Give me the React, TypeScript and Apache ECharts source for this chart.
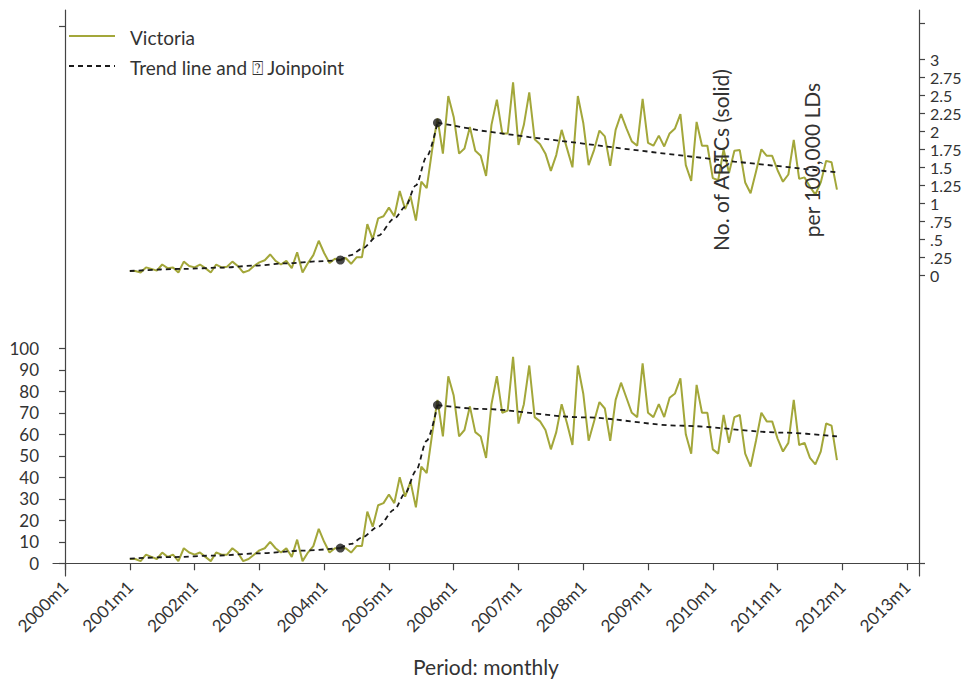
import React, { useEffect, useRef } from "react";
import * as echarts from "echarts";

// Month index: 0 = 2000m1. Data start at 2001m1 (index 12).
const START_MONTH = 12;
const tickMonths = [0, 12, 24, 36, 48, 60, 72, 84, 96, 108, 120, 132, 144, 156];

// Number of ARTCs (left axis), 2001m1..2011m12
const countValues = [
  2, 2, 1, 4, 3, 2, 5, 3, 4, 1, 7, 5,
  4, 5, 3, 1, 5, 4, 4, 7, 5, 1, 2, 4,
  6, 7, 10, 7, 5, 7, 3, 11, 1, 5, 8, 16,
  10, 5, 7, 7, 7, 5, 8, 8, 24, 17, 27, 28,
  32, 28, 40, 31, 38, 26, 45, 42, 60, 76, 59, 87,
  78, 59, 62, 73, 61, 59, 49, 74, 87, 70, 71, 96,
  65, 74, 92, 68, 66, 62, 53, 61, 74, 65, 55, 92,
  79, 57, 66, 75, 72, 57, 76, 84, 77, 70, 68, 93,
  70, 68, 74, 68, 77, 79, 86, 60, 51, 83, 70, 70,
  53, 51, 69, 56, 68, 69, 51, 45, 57, 70, 66, 66,
  58, 52, 56, 76, 55, 56, 49, 46, 52, 65, 64, 48,
];

// Rate per 100,000 LDs (right axis), 2001m1..2011m12
const rateValues = [
  0.06, 0.06, 0.04, 0.11, 0.09, 0.065, 0.15, 0.1, 0.11, 0.04, 0.19, 0.13,
  0.11, 0.15, 0.1, 0.04, 0.15, 0.11, 0.12, 0.19, 0.13, 0.04, 0.065, 0.13,
  0.18, 0.21, 0.29, 0.2, 0.15, 0.2, 0.1, 0.32, 0.04, 0.17, 0.28, 0.48,
  0.31, 0.17, 0.23, 0.21, 0.24, 0.16, 0.25, 0.25, 0.71, 0.5, 0.79, 0.82,
  0.94, 0.82, 1.17, 0.92, 1.1, 0.76, 1.3, 1.21, 1.74, 2.18, 1.69, 2.49,
  2.2, 1.69, 1.76, 2.06, 1.73, 1.66, 1.38, 2.09, 2.44, 1.97, 1.97, 2.68,
  1.81, 2.09, 2.54, 1.89, 1.82, 1.69, 1.45, 1.67, 2.02, 1.76, 1.5, 2.49,
  2.12, 1.53, 1.74, 2.01, 1.93, 1.52, 2.02, 2.24, 2.04, 1.86, 1.8, 2.45,
  1.84, 1.8, 1.94, 1.79, 1.97, 2.04, 2.24, 1.53, 1.31, 2.13, 1.8, 1.8,
  1.35, 1.32, 1.75, 1.42, 1.73, 1.74, 1.29, 1.14, 1.44, 1.75, 1.66, 1.66,
  1.46, 1.3, 1.4, 1.88, 1.34, 1.36, 1.23, 1.12, 1.29, 1.59, 1.57, 1.19,
];

// Joinpoint trend segments [monthIndex, value]
const countTrend1 = [[12, 2.2], [20, 2.9], [28, 3.6], [36, 4.65], [44, 5.9], [51, 7.1]];
const countTrend2 = [[51, 7.1], [53, 9], [55, 12], [58, 17], [61, 25], [63, 32.5], [65, 43], [67, 57], [69, 73.6]];
const countTrend3 = [[69, 73.6], [77, 71.8], [96, 67.9], [114, 64], [133, 60.8], [143, 59]];
const rateTrend1 = [[12, 0.06], [22, 0.09], [29, 0.107], [35, 0.134], [41, 0.167], [47, 0.194], [51, 0.213]];
const rateTrend2 = [[51, 0.213], [53, 0.28], [55, 0.37], [58, 0.55], [61, 0.79], [63, 0.95], [65, 1.25], [67, 1.65], [69, 2.12]];
const rateTrend3 = [[69, 2.12], [77, 2.01], [86, 1.92], [96, 1.83], [105, 1.745], [115, 1.657], [124, 1.58], [133, 1.51], [143, 1.43]];
const countJoinpoints = [[51, 7.1], [69, 73.6]];
const rateJoinpoints = [[51, 0.213], [69, 2.12]];

const leftLabels = [0, 10, 20, 30, 40, 50, 60, 70, 80, 90, 100];
const leftTicks = [...leftLabels, 250];
const rightLabels = [0, 0.25, 0.5, 0.75, 1, 1.25, 1.5, 1.75, 2, 2.25, 2.5, 2.75, 3];
const rightTicks = [-4, ...rightLabels, 3.5];

const GREEN = "#a3a73a";
const FONT = "Lato";
const TEXT = "#333";
const AXIS = "#444";

export default function App() {
  const ref = useRef<HTMLDivElement>(null);
  useEffect(() => {
    if (!ref.current) return;
    const chart = echarts.init(ref.current, null, { renderer: "svg" });
    const toPts = (vals: number[]) => vals.map((v, i) => [START_MONTH + i, v]);
    const trend = (data: number[][], yAxisIndex: number, smooth: number) => ({
      type: "line",
      data,
      yAxisIndex,
      smooth,
      smoothMonotone: "x",
      symbol: "none",
      lineStyle: { color: "#1a1a1a", width: 1.8, type: [5, 4] },
      z: 3,
    });
    chart.setOption({
      animation: false,
      textStyle: { fontFamily: FONT },
      grid: { left: 53, right: 49, top: 10, bottom: 104, outerBoundsMode: "none", containLabel: false },
      xAxis: {
        type: "value",
        min: -2.23,
        max: 158.2,
        axisLine: { show: true, lineStyle: { color: AXIS, width: 1.2 } },
        axisTick: { show: true, customValues: tickMonths, length: 7, lineStyle: { color: AXIS, width: 1.2 } },
        axisLabel: {
          customValues: tickMonths,
          rotate: 45,
          margin: 8,
          fontSize: 17,
          color: TEXT,
          fontFamily: FONT,
          formatter: (v: number) => `${2000 + Math.round(v / 12)}m1`,
        },
        splitLine: { show: false },
        name: "Period: monthly",
        nameLocation: "middle",
        nameGap: 80,
        nameTextStyle: { fontSize: 21, color: TEXT, fontFamily: FONT },
      },
      yAxis: [
        {
          type: "value",
          position: "left",
          min: -5.91,
          max: 257.35,
          axisLine: { show: true, lineStyle: { color: AXIS, width: 1.2 } },
          axisTick: { show: true, customValues: leftTicks, length: 6, lineStyle: { color: AXIS, width: 1.2 } },
          axisLabel: { customValues: leftLabels, fontSize: 17, margin: 14, color: TEXT, fontFamily: FONT },
          splitLine: { show: false },
        },
        {
          type: "value",
          position: "right",
          min: -4.176,
          max: 3.685,
          axisLine: { show: true, lineStyle: { color: AXIS, width: 1.2 } },
          axisTick: { show: true, customValues: rightTicks, length: 6, lineStyle: { color: AXIS, width: 1.2 } },
          axisLabel: {
            customValues: rightLabels,
            fontSize: 16,
            lineHeight: 16,
            margin: 11,
            color: TEXT,
            fontFamily: FONT,
            formatter: (v: number) => (v === 0 ? "0" : String(v).replace(/^0\./, ".")),
          },
          splitLine: { show: false },
        },
      ],
      series: [
        { type: "line", data: toPts(countValues), yAxisIndex: 0, symbol: "none", lineStyle: { color: GREEN, width: 2 }, z: 2 },
        { type: "line", data: toPts(rateValues), yAxisIndex: 1, symbol: "none", lineStyle: { color: GREEN, width: 2 }, z: 2 },
        trend(countTrend1, 0, 0.3),
        trend(countTrend2, 0, 0.3),
        trend(countTrend3, 0, 0.3),
        trend(rateTrend1, 1, 0.3),
        trend(rateTrend2, 1, 0.3),
        trend(rateTrend3, 1, 0),
        { type: "scatter", data: countJoinpoints, yAxisIndex: 0, symbolSize: 9, itemStyle: { color: "#1a1a1a" }, z: 4 },
        { type: "scatter", data: rateJoinpoints, yAxisIndex: 1, symbolSize: 9, itemStyle: { color: "#1a1a1a" }, z: 4 },
      ],
      graphic: [
        { type: "line", shape: { x1: 69, y1: 36, x2: 115, y2: 36 }, style: { stroke: GREEN, lineWidth: 2 } },
        { type: "text", x: 130, y: 37, style: { text: "Victoria", font: `19px ${FONT}`, fill: TEXT, textVerticalAlign: "middle" } },
        { type: "line", shape: { x1: 69, y1: 66, x2: 115, y2: 66 }, style: { stroke: "#1a1a1a", lineWidth: 1.8, lineDash: [5, 4] } },
        { type: "text", x: 130, y: 67, style: { text: "Trend line and \u2370 Joinpoint", font: `19px ${FONT}`, fill: TEXT, textVerticalAlign: "middle" } },
        { type: "text", x: 720, y: 160, rotation: Math.PI / 2, style: { text: "No. of ARTCs (solid)", font: `21px ${FONT}`, fill: TEXT, textAlign: "center", textVerticalAlign: "middle" }, z: 10 },
        { type: "text", x: 811, y: 160, rotation: Math.PI / 2, style: { text: "per 100,000 LDs", font: `21px ${FONT}`, fill: TEXT, textAlign: "center", textVerticalAlign: "middle" }, z: 10 },
      ],
    });
    return () => chart.dispose();
  }, []);
  return <div ref={ref} style={{ width: 968, height: 680, position: "absolute", left: 0, top: 0 }} />;
}
